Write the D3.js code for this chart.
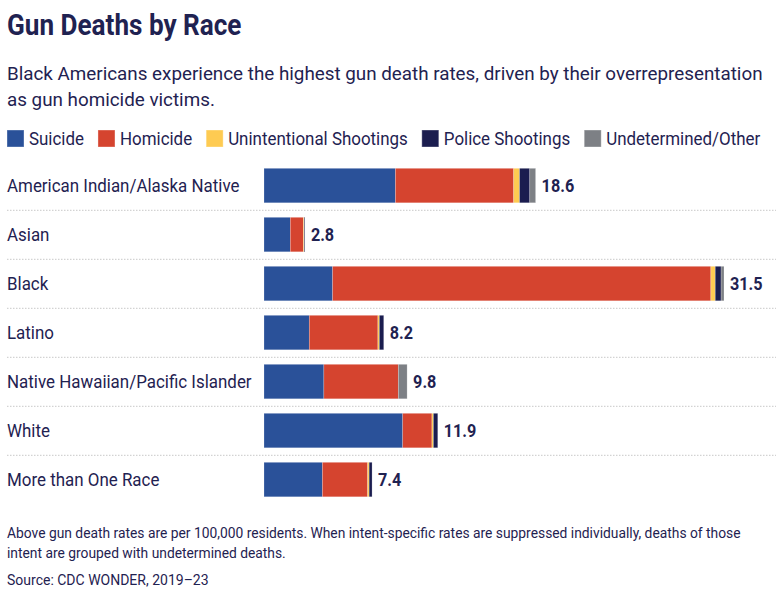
<!DOCTYPE html>
<html>
<head>
<meta charset="utf-8">
<script src="https://cdn.jsdelivr.net/npm/d3@7"></script>
<style>
  body { margin: 0; background: #fff; }
  svg text { font-family: Roboto, "Noto Sans", sans-serif; fill: #1f2251; }
</style>
</head>
<body>
<svg id="chart" width="783" height="600"></svg>
<script>
// data, rates per 100,000 residents
const races = ["American Indian/Alaska Native", "Asian", "Black", "Latino",
    "Native Hawaiian/Pacific Islander", "White", "More than One Race"];
const intents = ["Suicide", "Homicide", "Unintentional Shootings", "Police Shootings", "Undetermined/Other"];
const suicide = [9.0, 1.8, 4.7, 3.1, 4.1, 9.5, 4.0];
const homicide = [8.1, 0.9, 25.9, 4.7, 5.1, 2.0, 3.1];
const unintentional = [0.4, 0.05, 0.3, 0.1, 0, 0.1, 0.1];
const police = [0.7, 0.05, 0.4, 0.3, 0, 0.3, 0.2];
const undetermined = [0.4, 0, 0.2, 0, 0.6, 0, 0];
const totals = ["18.6", "2.8", "31.5", "8.2", "9.8", "11.9", "7.4"];
const colors = ["#2a5199", "#d5442f", "#fecb52", "#1b1d4f", "#7d8085"];

const svg = d3.select("#chart");

const rows = races.map((r, i) => ({
    race: r,
    Suicide: suicide[i],
    Homicide: homicide[i],
    "Unintentional Shootings": unintentional[i],
    "Police Shootings": police[i],
    "Undetermined/Other": undetermined[i],
    total: totals[i]
}));

const stacked = d3.stack().keys(intents)(rows);

const x = d3.scaleLinear().domain([0, 31.5]).range([264, 724]);
const y = d3.scaleBand().domain(races).range([168.3 - 7.25, 168.3 - 7.25 + 49 * 7]).paddingInner(0.296).paddingOuter(0.148);
const color = d3.scaleOrdinal().domain(intents).range(colors);

// squeeze text horizontally so it matches the narrow house font
function squeeze(sel, ratio) {
    sel.each(function () {
        const w = this.getComputedTextLength();
        d3.select(this).attr("textLength", w * ratio).attr("lengthAdjust", "spacingAndGlyphs");
    });
}

// title + subtitle
svg.append("text").attr("x", 7).attr("y", 35)
    .attr("font-size", 29).attr("font-weight", 700)
    .text("Gun Deaths by Race")
    .call(squeeze, 0.9);

const sub = ["Black Americans experience the highest gun death rates, driven by their overrepresentation",
    "as gun homicide victims."];
svg.selectAll(".sub").data(sub).join("text")
    .attr("class", "sub")
    .attr("x", 7).attr("y", (d, i) => 80 + i * 26)
    .attr("font-size", 19)
    .text(d => d)
    .call(squeeze, 0.99);

// legend
const legend = svg.append("g").attr("transform", "translate(7,130)");
let lx = 0;
intents.forEach(k => {
    const g = legend.append("g").attr("transform", `translate(${lx},0)`);
    g.append("rect").attr("width", 17).attr("height", 17)
        .attr("fill", color(k)).attr("stroke", "#fff").attr("stroke-opacity", 0.35);
    const t = g.append("text").attr("x", 22).attr("y", 15).attr("font-size", 18).text(k)
        .call(squeeze, 0.94);
    lx += 22 + (+t.attr("textLength")) + 14;
});

// dotted separators
svg.selectAll(".sep").data(races.slice(0, -1)).join("line")
    .attr("class", "sep")
    .attr("x1", 7).attr("x2", 776)
    .attr("y1", d => y(d) + y.bandwidth() + 7.5)
    .attr("y2", d => y(d) + y.bandwidth() + 7.5)
    .attr("stroke", "#c8c8c8").attr("stroke-width", 1)
    .attr("stroke-dasharray", "1.5,1.5");

// category labels
svg.selectAll(".cat").data(races).join("text")
    .attr("class", "cat")
    .attr("x", 7).attr("y", d => y(d) + y.bandwidth() / 2 + 6)
    .attr("font-size", 17.5)
    .text(d => d)
    .call(squeeze, 0.967);

// bars
svg.append("g").selectAll("g").data(stacked).join("g")
    .attr("fill", d => color(d.key))
    .selectAll("rect").data(d => d).join("rect")
    .attr("x", d => x(d[0]))
    .attr("y", d => y(d.data.race))
    .attr("width", d => x(d[1]) - x(d[0]))
    .attr("height", y.bandwidth())
    .attr("stroke", "#fff").attr("stroke-opacity", 0.35).attr("stroke-width", 0.6);

// totals
const last = stacked[stacked.length - 1];
svg.selectAll(".tot").data(last).join("text")
    .attr("class", "tot")
    .attr("x", d => x(d[1]) + 6)
    .attr("y", d => y(d.data.race) + y.bandwidth() / 2 + 6.5)
    .attr("font-size", 18).attr("font-weight", 700)
    .text(d => d.data.total)
    .call(squeeze, 0.9);

// footnotes
const notes = ["Above gun death rates are per 100,000 residents. When intent-specific rates are suppressed individually, deaths of those",
    "intent are grouped with undetermined deaths."];
svg.selectAll(".note").data(notes).join("text")
    .attr("class", "note")
    .attr("x", 7).attr("y", (d, i) => 538 + i * 20)
    .attr("font-size", 14)
    .text(d => d)
    .call(squeeze, 0.987);
svg.append("text").attr("x", 7).attr("y", 585).attr("font-size", 14)
    .text("Source: CDC WONDER, 2019\u201323");
</script>
</body>
</html>
